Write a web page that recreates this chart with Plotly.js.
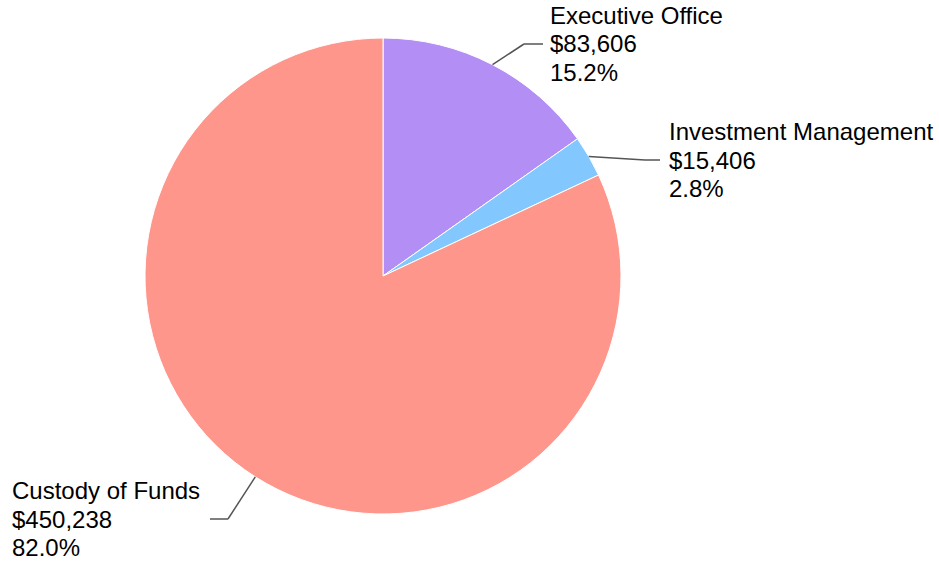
<!DOCTYPE html>
<html>
<head>
<meta charset="utf-8">
<script src="https://cdn.plot.ly/plotly-3.0.1.min.js"></script>
<style>
  html, body { margin: 0; padding: 0; background: #fff; }
  #chart { width: 939px; height: 563px; }
</style>
</head>
<body>
<div id="chart"></div>
<script>
// slice data, clockwise from 12 o'clock
const departments = ['Executive Office', 'Investment Management', 'Custody of Funds'];
const amounts = [83606, 15406, 450238];
const sliceColors = ['#b38ff5', '#82c8ff', '#ff968c'];

// figure geometry (pixels)
const W = 939, H = 563;
const pie = { cx: 383, cy: 276, r: 238 };
// where each label's connector bends and ends, and where its text starts
const labelPlacement = [
    { elbow: [524, 44],  end: [543, 44],  textX: 550 },
    { elbow: [645, 160], end: [660, 160], textX: 669 },
    { elbow: [228, 519], end: [210, 519], textX: 12 }
];
const lineGap = 28.5;
const textFont = { family: 'Liberation Sans, Arial, sans-serif', size: 24, color: '#000' };

const px = x => x / W;
const py = y => 1 - y / H;

const total = amounts.reduce((a, b) => a + b, 0);

const shapes = [];
const annotations = [];
let cum = 0;
amounts.forEach((v, i) => {
    // mid angle of the slice, clockwise from top
    const theta = 2 * Math.PI * (cum + v / 2) / total;
    cum += v;
    const edge = [pie.cx + pie.r * Math.sin(theta), pie.cy - pie.r * Math.cos(theta)];
    const lp = labelPlacement[i];
    const lineStyle = { color: '#555', width: 1.5 };
    shapes.push({ type: 'line', xref: 'paper', yref: 'paper', x0: px(edge[0]), y0: py(edge[1]), x1: px(lp.elbow[0]), y1: py(lp.elbow[1]), line: lineStyle });
    shapes.push({ type: 'line', xref: 'paper', yref: 'paper', x0: px(lp.elbow[0]), y0: py(lp.elbow[1]), x1: px(lp.end[0]), y1: py(lp.end[1]), line: lineStyle });

    const lines = [
        departments[i],
        '$' + v.toLocaleString('en-US'),
        (v / total * 100).toFixed(1) + '%'
    ];
    lines.forEach((t, k) => {
        annotations.push({
            xref: 'paper', yref: 'paper',
            x: px(lp.textX), y: py(lp.end[1] + (k - 1) * lineGap),
            xanchor: 'left', yanchor: 'middle',
            text: t, showarrow: false, align: 'left',
            borderpad: 0, borderwidth: 0,
            font: textFont
        });
    });
});

const data = [{
    type: 'pie',
    labels: departments,
    values: amounts,
    sort: false,
    direction: 'clockwise',
    rotation: 0,
    textinfo: 'none',
    hoverinfo: 'none',
    domain: {
        x: [px(pie.cx - pie.r), px(pie.cx + pie.r)],
        y: [py(pie.cy + pie.r), py(pie.cy - pie.r)]
    },
    marker: {
        colors: sliceColors,
        line: { color: '#ffffff', width: 1 }
    },
    showlegend: false
}];

const layout = {
    width: W,
    height: H,
    margin: { l: 0, r: 0, t: 0, b: 0 },
    paper_bgcolor: '#ffffff',
    font: textFont,
    shapes: shapes,
    annotations: annotations
};

Plotly.newPlot('chart', data, layout, { displayModeBar: false, staticPlot: true });
</script>
</body>
</html>
